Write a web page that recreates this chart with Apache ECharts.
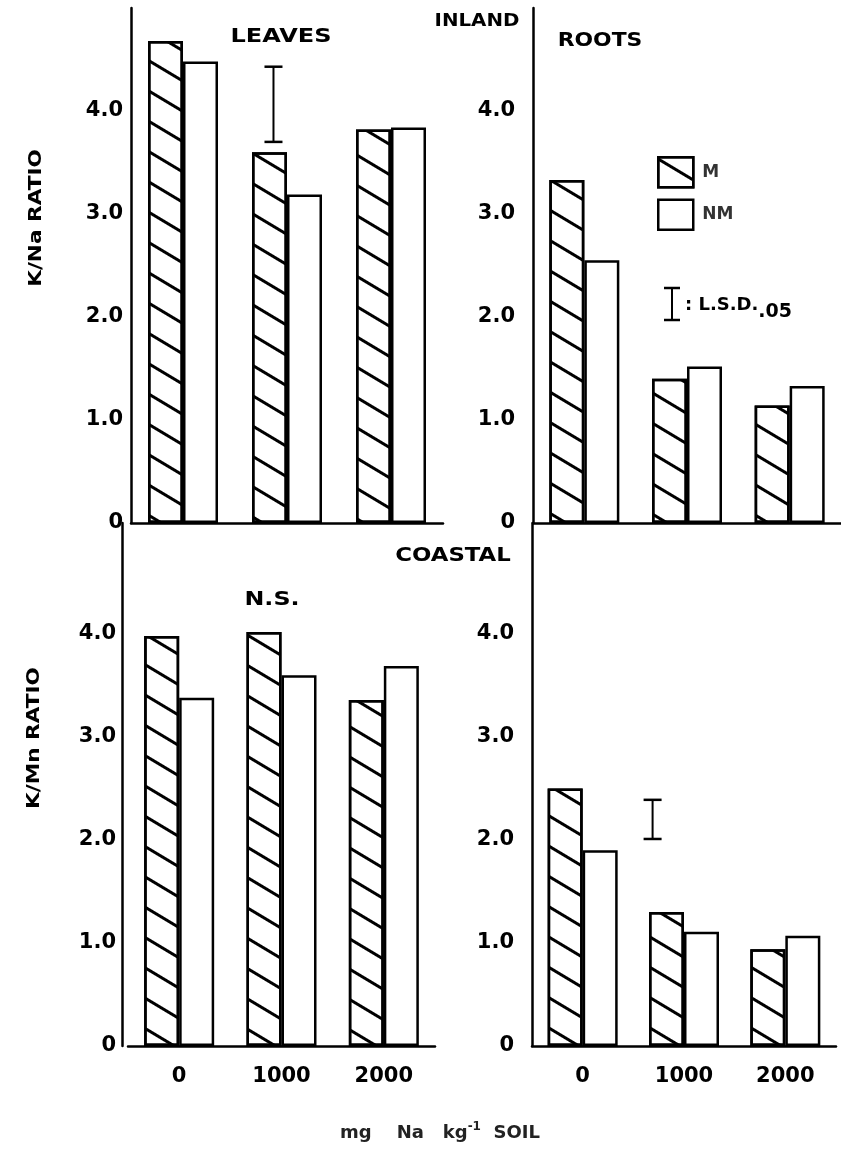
<!DOCTYPE html>
<html>
<head>
<meta charset="utf-8">
<script src="https://cdn.jsdelivr.net/npm/echarts@6/dist/echarts.min.js"></script>
<style>
  html, body { margin: 0; padding: 0; background: #fff; }
  #chart { width: 841px; height: 1151px; }
</style>
</head>
<body>
<div id="chart"></div>
<script>
// Na dose categories (mg Na per kg soil)
const doses = ['0', '1000', '2000'];
const yTickLabels = ['0', '1.0', '2.0', '3.0', '4.0'];

// Inland soil: K/Na ratio
const leavesInlandM  = [4.68, 3.60, 3.82];
const leavesInlandNM = [4.48, 3.19, 3.84];
const rootsInlandM   = [3.33, 1.40, 1.14];
const rootsInlandNM  = [2.55, 1.52, 1.33];

// Coastal soil: K/Mn ratio
const leavesCoastalM  = [3.98, 4.02, 3.36];
const leavesCoastalNM = [3.38, 3.60, 3.69];
const rootsCoastalM   = [2.50, 1.30, 0.94];
const rootsCoastalNM  = [1.90, 1.11, 1.07];

// L.S.D.(0.05) bars: [category index, low, high, shift within the category band]
const lsdLeavesInland = [1, 3.70, 4.43, -0.13];
const lsdRootsCoastal = [1, 2.01, 2.39, -0.31];

const FONT = 'DejaVu Sans';
const INK = '#000';

const hatch = {
  symbol: 'rect',
  symbolSize: 1,
  dashArrayX: [1, 0],
  dashArrayY: [2.5, 22.5],
  rotation: 0.54,
  color: INK
};

const barBase = { type: 'bar', barWidth: 35, barGap: '0%', animation: false, silent: true };

function mBar(idx, data) {
  return Object.assign({}, barBase, {
    name: 'M', xAxisIndex: idx, yAxisIndex: idx, data: data,
    itemStyle: { color: '#fff', borderColor: INK, borderWidth: 2.5, decal: hatch }
  });
}
function nmBar(idx, data) {
  return Object.assign({}, barBase, {
    name: 'NM', xAxisIndex: idx, yAxisIndex: idx, data: data,
    itemStyle: { color: '#fff', borderColor: INK, borderWidth: 2.5 }
  });
}

// I-shaped significance bar drawn through the axis scales
function lsdItem(params, api) {
  const cat = api.value(0);
  const band = api.size([1, 0])[0];
  const lo = api.coord([cat, api.value(1)]);
  const hi = api.coord([cat, api.value(2)]);
  const x = lo[0] + api.value(3) * band;
  const cap = 9;
  const s = { stroke: INK, lineWidth: 2.5 };
  return {
    type: 'group',
    children: [
      { type: 'line', shape: { x1: x, y1: hi[1], x2: x, y2: lo[1] }, style: { stroke: INK, lineWidth: 2 } },
      { type: 'line', shape: { x1: x - cap, y1: hi[1], x2: x + cap, y2: hi[1] }, style: s },
      { type: 'line', shape: { x1: x - cap, y1: lo[1], x2: x + cap, y2: lo[1] }, style: s }
    ]
  };
}
function lsdSeries(idx, row) {
  return {
    type: 'custom', xAxisIndex: idx, yAxisIndex: idx, silent: true, animation: false,
    renderItem: lsdItem, encode: { x: 0, y: [1, 2] }, data: [row]
  };
}

const axisLine = { show: true, lineStyle: { color: INK, width: 2.5 } };

function yAxis(gridIndex, max, margin, offset) {
  return {
    type: 'value', gridIndex: gridIndex, min: 0, max: max, interval: 1,
    offset: offset || 0,
    axisLine: axisLine, axisTick: { show: false }, splitLine: { show: false },
    axisLabel: {
      margin: margin, fontFamily: FONT, fontWeight: 'bold', fontSize: 21, color: INK,
      showMaxLabel: false,
      formatter: v => (Number.isInteger(v) && yTickLabels[v] !== undefined) ? yTickLabels[v] : ''
    }
  };
}
function xAxis(gridIndex, showLabels) {
  return {
    type: 'category', gridIndex: gridIndex, data: doses,
    axisLine: axisLine, axisTick: { show: false },
    axisLabel: {
      show: showLabels, margin: 20, fontFamily: FONT, fontWeight: 'bold', fontSize: 21, color: INK
    }
  };
}

// Panel captions, widened a little with scaleX around their own anchor
function label(text, x, y, size, opts) {
  return Object.assign({
    type: 'text', x: x, y: y,
    style: {
      text: text, fontFamily: FONT, fontWeight: 'bold', fontSize: size,
      fill: INK, textAlign: 'center', textVerticalAlign: 'middle'
    }
  }, opts || {});
}

const option = {
  backgroundColor: '#fff',
  animation: false,
  grid: [
    { left: 131, top: 8,   width: 312, height: 515 },
    { left: 533, top: 8,   width: 308, height: 515 },
    { left: 128, top: 523, width: 307, height: 523 },
    { left: 532, top: 523, width: 304, height: 523 }
  ],
  xAxis: [xAxis(0, false), xAxis(1, false), xAxis(2, true), xAxis(3, true)],
  yAxis: [
    yAxis(0, 5, 8),
    yAxis(1, 5, 18),
    yAxis(2, 523 / 103, 6, 6),
    yAxis(3, 523 / 103, 18)
  ],
  legend: {
    data: ['M', 'NM'], orient: 'vertical', left: 652, top: 151,
    itemWidth: 35, itemHeight: 30, itemGap: 10, selectedMode: false,
    icon: 'rect',
    itemStyle: { borderColor: INK, borderWidth: 2.5 },
    textStyle: { fontFamily: FONT, fontWeight: 'bold', fontSize: 17, color: '#333', padding: [0, 0, 0, 4] }
  },
  series: [
    mBar(0, leavesInlandM), nmBar(0, leavesInlandNM),
    mBar(1, rootsInlandM), nmBar(1, rootsInlandNM),
    mBar(2, leavesCoastalM), nmBar(2, leavesCoastalNM),
    mBar(3, rootsCoastalM), nmBar(3, rootsCoastalNM),
    lsdSeries(0, lsdLeavesInland),
    lsdSeries(3, lsdRootsCoastal)
  ],
  graphic: [
    label('LEAVES', 281, 37, 20, { scaleX: 1.2 }),
    label('INLAND', 477, 21, 18, { scaleX: 1.1 }),
    label('ROOTS', 600, 41, 19, { scaleX: 1.15 }),
    label('COASTAL', 453, 556, 19, { scaleX: 1.2 }),
    label('N.S.', 272, 600, 19, { scaleX: 1.25 }),
    label('K/Na RATIO', 36, 218, 18, { rotation: Math.PI / 2, scaleX: 1.2 }),
    label('K/Mn RATIO', 34, 738, 18, { rotation: Math.PI / 2, scaleX: 1.2 }),
    // L.S.D. key
    { type: 'line', shape: { x1: 672, y1: 288, x2: 672, y2: 320 }, style: { stroke: INK, lineWidth: 2 } },
    { type: 'line', shape: { x1: 664, y1: 288, x2: 680, y2: 288 }, style: { stroke: INK, lineWidth: 2.5 } },
    { type: 'line', shape: { x1: 664, y1: 320, x2: 680, y2: 320 }, style: { stroke: INK, lineWidth: 2.5 } },
    {
      type: 'text', x: 685, y: 305,
      style: {
        text: '{m|: L.S.D.}{s|.05}', textVerticalAlign: 'middle',
        rich: {
          m: { fontFamily: FONT, fontWeight: 'bold', fontSize: 18, fill: INK },
          s: { fontFamily: FONT, fontWeight: 'bold', fontSize: 19, fill: INK, padding: [14, 0, 0, 0] }
        }
      }
    },
    {
      type: 'text', x: 440, y: 1133,
      style: {
        text: '{t|mg    Na   kg}{u|-1}{t|  SOIL}', textAlign: 'center', textVerticalAlign: 'middle',
        rich: {
          t: { fontFamily: FONT, fontWeight: 'bold', fontSize: 18, fill: '#222' },
          u: { fontFamily: FONT, fontWeight: 'bold', fontSize: 12, fill: '#222', padding: [0, 0, 12, 0] }
        }
      }
    }
  ]
};

const chart = echarts.init(document.getElementById('chart'), null, { renderer: 'canvas' });
chart.setOption(option);
</script>
</body>
</html>
